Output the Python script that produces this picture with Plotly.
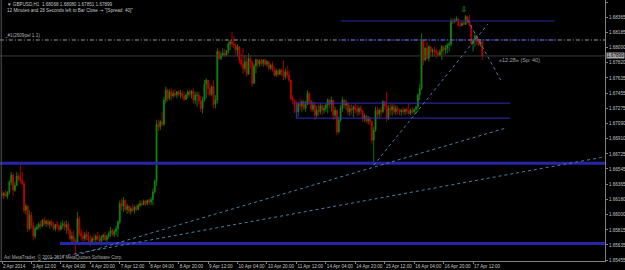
import plotly.graph_objects as go

# ---------------- data (prices in 1/10000 units) ----------------
first_open_p = 16625
high_p = [16629,16627,16629,16628,16641,16651,16649,16639,16651,16649,16659,16651,16640,16613,16611,16605,16603,16591,16586,16589,
          16591,16593,16595,16597,16594,16595,16593,16594,16591,16589,16592,16588,16591,16593,16592,16593,16591,16583,16579,16581,
          16571,16603,16598,16583,16580,16579,16581,16579,16575,16574,16577,16576,16579,16576,16575,16577,16579,16576,16580,16585,
          16583,16582,16587,16593,16617,16619,16621,16618,16613,16611,16610,16612,16611,16612,16613,16617,16617,16618,16617,16618,
          16619,16621,16631,16642,16713,16714,16713,16723,16741,16753,16751,16750,16751,16749,16750,16748,16749,16749,16748,16747,
          16745,16749,16750,16749,16751,16747,16747,16747,16742,16741,16761,16763,16761,16757,16755,16761,16743,16799,16797,16795,
          16799,16798,16797,16807,16809,16819,16814,16805,16804,16801,16793,16799,16791,16789,16793,16791,16777,16781,16787,16787,
          16786,16787,16786,16787,16785,16783,16781,16783,16777,16775,16774,16775,16775,16785,16775,16778,16773,16761,16743,16737,
          16736,16735,16739,16737,16738,16736,16749,16747,16737,16735,16735,16730,16732,16733,16732,16731,16733,16739,16738,16741,
          16731,16729,16721,16717,16731,16741,16738,16737,16735,16731,16732,16731,16733,16731,16730,16731,16725,16721,16719,16718,
          16717,16712,16705,16729,16729,16727,16729,16737,16736,16747,16731,16733,16732,16733,16731,16730,16727,16727,16729,16727,
          16729,16733,16727,16729,16727,16730,16745,16756,16817,16809,16801,16807,16803,16801,16799,16801,16799,16797,16798,16803,
          16802,16803,16805,16807,16835,16835,16835,16837,16835,16831,16832,16833,16839,16838,16839,16827,16811,16817,16815,16811,
          16810,16808]
low_p = [16619,16619,16621,16619,16624,16635,16622,16627,16634,16640,16637,16635,16601,16600,16579,16581,16583,16569,16571,16581,
         16582,16583,16585,16587,16585,16586,16583,16585,16581,16580,16582,16579,16581,16583,16581,16577,16576,16569,16567,16563,
         16551,16565,16574,16569,16567,16568,16569,16564,16562,16565,16568,16567,16569,16564,16563,16569,16568,16565,16571,16573,
         16574,16573,16575,16573,16588,16605,16603,16604,16601,16601,16600,16603,16601,16604,16605,16609,16610,16611,16610,16611,
         16612,16611,16611,16625,16634,16700,16701,16706,16706,16733,16735,16737,16736,16739,16741,16739,16741,16739,16738,16736,
         16737,16739,16741,16739,16733,16732,16729,16732,16723,16721,16735,16739,16743,16741,16742,16727,16727,16733,16785,16785,
         16789,16789,16790,16793,16797,16801,16799,16791,16789,16781,16777,16769,16771,16765,16769,16775,16753,16757,16769,16775,
         16777,16778,16777,16778,16777,16773,16773,16771,16765,16765,16765,16767,16766,16761,16762,16763,16759,16737,16732,16721,
         16723,16717,16725,16723,16725,16723,16731,16732,16723,16723,16713,16715,16718,16720,16719,16721,16723,16721,16727,16723,
         16713,16714,16695,16697,16711,16723,16727,16725,16719,16718,16720,16717,16721,16718,16719,16720,16711,16711,16709,16708,
         16707,16685,16659,16699,16715,16715,16717,16721,16725,16711,16713,16719,16718,16720,16719,16720,16719,16718,16720,16719,
         16720,16720,16719,16720,16719,16721,16723,16737,16749,16779,16783,16785,16783,16789,16789,16790,16787,16790,16790,16785,
         16791,16792,16793,16795,16801,16828,16829,16831,16825,16825,16826,16827,16827,16829,16825,16803,16795,16801,16803,16802,
         16801,16785]
close_p = [16623,16625,16622,16627,16639,16647,16629,16635,16646,16643,16641,16637,16605,16610,16583,16599,16587,16574,16583,16585,
           16588,16586,16593,16589,16592,16588,16591,16587,16583,16588,16586,16582,16587,16589,16585,16588,16581,16571,16574,16568,
           16567,16595,16577,16574,16571,16576,16573,16569,16565,16571,16570,16574,16571,16568,16573,16575,16570,16574,16577,16581,
           16576,16580,16583,16591,16613,16610,16617,16606,16610,16604,16607,16605,16609,16606,16611,16613,16612,16616,16613,16617,
           16615,16618,16627,16640,16708,16705,16711,16708,16737,16749,16739,16747,16742,16745,16743,16747,16744,16745,16742,16738,
           16743,16747,16744,16748,16737,16743,16743,16736,16727,16737,16756,16761,16751,16744,16753,16732,16737,16795,16787,16791,
           16793,16791,16796,16804,16807,16804,16803,16797,16801,16785,16780,16775,16783,16768,16787,16783,16757,16778,16785,16780,
           16784,16781,16785,16780,16783,16775,16779,16773,16767,16772,16768,16773,16771,16765,16771,16767,16761,16739,16737,16729,
           16723,16732,16730,16735,16727,16732,16745,16736,16726,16731,16719,16725,16723,16730,16725,16727,16731,16737,16732,16737,
           16719,16725,16699,16713,16727,16737,16731,16733,16723,16727,16725,16729,16726,16723,16727,16724,16715,16718,16712,16714,
           16711,16689,16701,16725,16720,16725,16723,16735,16730,16715,16727,16725,16729,16723,16727,16725,16723,16725,16723,16726,
           16724,16721,16725,16723,16726,16729,16743,16751,16809,16785,16799,16787,16801,16795,16797,16796,16793,16791,16795,16801,
           16797,16799,16803,16804,16832,16831,16833,16834,16827,16826,16829,16828,16837,16832,16827,16805,16809,16814,16807,16803,
           16807,16790]
PRICE_UNIT = 10000.0

date_tick_bars = [0, 16, 32, 48, 64, 80, 96, 112, 128, 144, 160, 176, 192, 208, 224, 240, 256]
date_tick_labels = ["2 Apr 2014", "3 Apr 12:00", "4 Apr 04:00", "4 Apr 20:00", "7 Apr 12:00", "8 Apr 04:00",
                    "8 Apr 20:00", "9 Apr 12:00", "10 Apr 04:00", "10 Apr 20:00", "11 Apr 12:00", "14 Apr 04:00",
                    "14 Apr 20:00", "15 Apr 12:00", "16 Apr 04:00", "16 Apr 20:00", "17 Apr 12:00"]
price_ticks = [1.68545, 1.68365, 1.68185, 1.68000, 1.67820, 1.67635, 1.67455, 1.67275, 1.67090, 1.66910,
               1.66725, 1.66545, 1.66365, 1.66180, 1.66000, 1.65815, 1.65635, 1.65455]
price_tick_labels = ["1.68545", "1.68365", "1.68185", "1.68000", "1.67820", "1.67635", "1.67455", "1.67275",
                     "1.67090", "1.66910", "1.66725", "1.66545", "1.66365", "1.66180", "1.66000", "1.65815",
                     "1.65635", "1.65455"]

bid_price = 1.67899
bar_open, bar_high, bar_low, bar_close = 1.68068, 1.68080, 1.67851, 1.67899

# horizontal objects
support_levels = [1.66614, 1.65654]
support_from_bar = [-3, 31.5]
box_top, box_bottom = 1.67334, 1.67154
box_bars = [160, 276]
upper_level = 1.68318
upper_bars = [184, 300.5]
pivot_level = 1.68090
pivot_bars = [184, 301.5]

# trend lines (bar, price) -> (bar, price)
trend_x0 = [40, 10, 202, 253]
trend_y0 = [1.6551, 1.6541, 1.6659, 1.6833]
trend_x1 = [273, 330, 264, 271]
trend_y1 = [1.6703, 1.6670, 1.6828, 1.6761]

fractal_bar, fractal_price = 251, 1.68447
timer_bar, timer_price = 269, 1.67850

# ---------------- build ----------------
high = [v / PRICE_UNIT for v in high_p]
low = [v / PRICE_UNIT for v in low_p]
close = [v / PRICE_UNIT for v in close_p]
opens = [first_open_p / PRICE_UNIT] + close[:-1]
bars = list(range(len(close)))

X_MIN, X_MAX = -1.087, 327.7
FULL = [X_MIN - 5, X_MAX + 5]

GREEN = "#138a13"
RED = "#c80000"
BLUE_THICK = "#2626a6"
BLUE_THIN = "#2f2fc0"
DOT = "#4a7fa8"
TXT = "#c4c4c4"
FONT = "Liberation Sans"

fig = go.Figure()

def hline(xs, y, color, width, dash="solid"):
    fig.add_trace(go.Scatter(x=xs, y=[y, y], mode="lines",
                             line=dict(color=color, width=width, dash=dash),
                             hoverinfo="skip", showlegend=False))

# background objects
hline(FULL, pivot_level, "#9a9a9a", 1, "4px,2px,1px,2px")
hline(FULL, bid_price, "#3c3c3c", 1)

fig.add_trace(go.Candlestick(
    x=bars, open=opens, high=high, low=low, close=close,
    increasing=dict(line=dict(color=GREEN, width=0.8), fillcolor=GREEN),
    decreasing=dict(line=dict(color=RED, width=0.8), fillcolor=RED),
    whiskerwidth=0, showlegend=False, hoverinfo="skip"))

for lvl, start in zip(support_levels, support_from_bar):
    hline([start, FULL[1]], lvl, BLUE_THICK, 3)

# rectangle box
fig.add_trace(go.Scatter(x=[box_bars[1], box_bars[0], box_bars[0], box_bars[1]],
                         y=[box_top, box_top, box_bottom, box_bottom], mode="lines",
                         line=dict(color=BLUE_THIN, width=1), hoverinfo="skip", showlegend=False))
hline(upper_bars, upper_level, "#28289a", 1)
hline(pivot_bars, pivot_level, "#3030c8", 1, "5px,2px,1px,2px")

for x0, y0, x1, y1 in zip(trend_x0, trend_y0, trend_x1, trend_y1):
    fig.add_trace(go.Scatter(x=[x0, x1], y=[y0, y1], mode="lines",
                             line=dict(color=DOT, width=1, dash="dot"),
                             hoverinfo="skip", showlegend=False))

# fractal arrow
fig.add_trace(go.Scatter(x=[fractal_bar], y=[fractal_price], mode="text", text=["⇩"],
                         textfont=dict(color="#22c022", size=8, family="DejaVu Sans"),
                         hoverinfo="skip", showlegend=False))

annotations = [
    dict(xref="paper", yref="paper", x=0.008, y=0.981, xanchor="left", yanchor="middle",
         text=f"▼ {'GBPUSD,H1'}  {bar_open:.5f} {bar_high:.5f} {bar_low:.5f} {bar_close:.5f}",
         font=dict(size=4.6, color=TXT, family=FONT), showarrow=False),
    dict(xref="paper", yref="paper", x=0.008, y=0.960, xanchor="left", yanchor="middle",
         text='12 Minutes and 28 Seconds left to Bar Close -+ "[Spread: 40]"',
         font=dict(size=4.6, color=TXT, family=FONT), showarrow=False),
    dict(xref="paper", yref="y", x=0.004, y=pivot_level, xanchor="left", yanchor="bottom",
         text="_#1(2609pel 1.1)", font=dict(size=4.6, color="#b0b0b0", family=FONT),
         showarrow=False, yshift=0),
    dict(xref="paper", yref="paper", x=0.004, y=0.016, xanchor="left", yanchor="middle",
         text="Axi MetaTrader, © 2001-2014 MetaQuotes Software Corp.",
         font=dict(size=4.6, color="#a8a8a8", family=FONT), showarrow=False),
    dict(xref="x", yref="y", x=timer_bar, y=timer_price, xanchor="left", yanchor="middle",
         text="«12:28» (Sp: 40)", font=dict(size=5.5, color="#a0a0a0", family=FONT), showarrow=False),
    dict(xref="paper", yref="y", x=1.0, y=bid_price, xanchor="left", yanchor="middle",
         text=f"{bid_price:.5f}", font=dict(size=4.6, color="#000000", family=FONT),
         bgcolor="#a8a8a8", borderpad=0, showarrow=False, xshift=1),
]

fig.update_layout(
    width=625, height=270,
    margin=dict(l=0, r=20, t=0, b=9, autoexpand=False),
    paper_bgcolor="#000000", plot_bgcolor="#000000",
    annotations=annotations,
    showlegend=False,
    xaxis=dict(range=[X_MIN, X_MAX], showgrid=False, zeroline=False, automargin=False,
               tickmode="array", tickvals=date_tick_bars, ticktext=date_tick_labels,
               tickangle=0,
               ticks="outside", ticklen=2, tickcolor="#808080",
               ticklabelposition="outside right",
               tickfont=dict(size=4.6, color=TXT, family=FONT),
               showline=True, linecolor="#808080", linewidth=1,
               rangeslider=dict(visible=False), fixedrange=True),
    yaxis=dict(range=[1.65443, 1.68569], side="right", showgrid=False, zeroline=False, automargin=False,
               tickmode="array", tickvals=price_ticks, ticktext=price_tick_labels,
               ticks="outside", ticklen=2, tickcolor="#808080",
               tickfont=dict(size=4.6, color=TXT, family=FONT),
               showline=True, linecolor="#808080", linewidth=1, fixedrange=True),
    shapes=[dict(type="line", xref="paper", yref="paper", x0=0.002, x1=0.002, y0=0, y1=1,
                 line=dict(color="#555555", width=1))],
)

fig.write_html("out.html")
